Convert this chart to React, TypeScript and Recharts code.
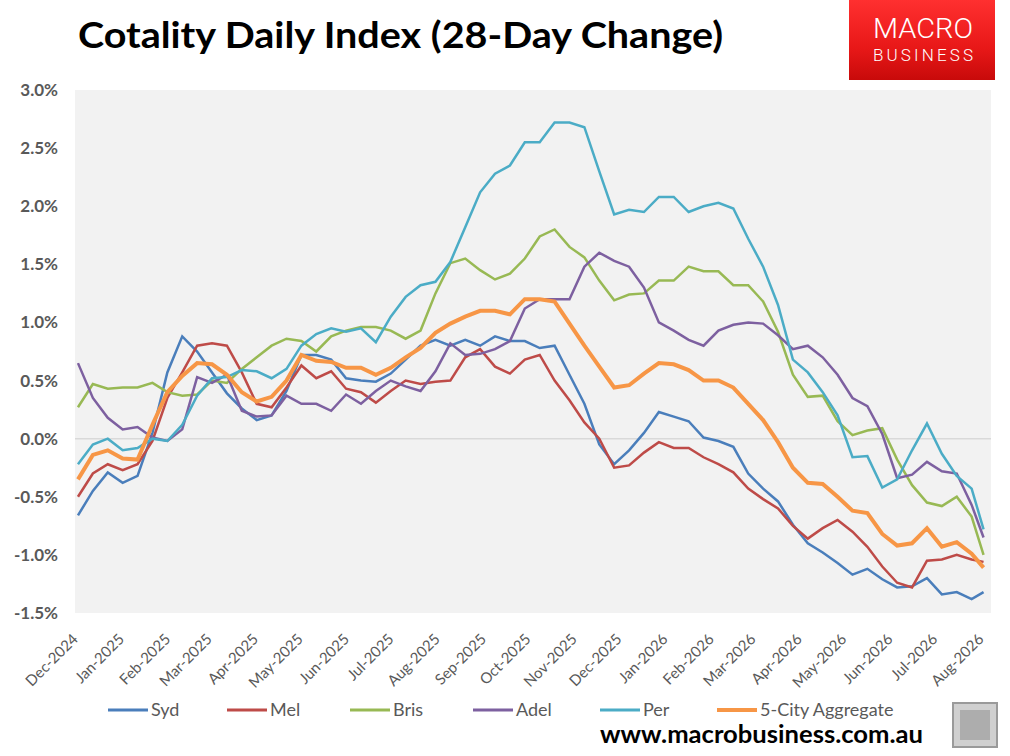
import React from 'react';
import { LineChart, Line, XAxis, YAxis, CartesianGrid, ReferenceLine } from 'recharts';

// days since 1 Dec 2024, sampled roughly every 10 days
const days = [
  0, 10, 20, 30, 40, 50, 60, 70, 80, 90, 100, 110, 120, 130, 140, 150, 160, 170, 180, 190,
  200, 210, 220, 230, 240, 250, 260, 270, 280, 290, 300, 310, 320, 330, 340, 350, 360, 370, 380, 390,
  400, 410, 420, 430, 440, 450, 460, 470, 480, 490, 500, 510, 520, 530, 540, 550, 560, 570, 580, 590,
  600, 608,
];

const syd = [
  -0.66, -0.45, -0.29, -0.38, -0.32, 0.05, 0.57, 0.88, 0.75, 0.57, 0.39, 0.26, 0.16, 0.2, 0.41, 0.72, 0.72, 0.68, 0.52, 0.5,
  0.49, 0.56, 0.68, 0.8, 0.85, 0.8, 0.85, 0.8, 0.88, 0.84, 0.84, 0.78, 0.8, 0.55, 0.3, -0.05, -0.22, -0.1, 0.05, 0.23,
  0.19, 0.15, 0.01, -0.02, -0.07, -0.3, -0.43, -0.54, -0.74, -0.9, -0.98, -1.07, -1.17, -1.12, -1.21, -1.28, -1.27, -1.2, -1.34, -1.32,
  -1.38, -1.32,
];

const mel = [
  -0.5, -0.3, -0.22, -0.27, -0.22, -0.02, 0.35, 0.57, 0.8, 0.82, 0.8, 0.57, 0.3, 0.27, 0.44, 0.63, 0.52, 0.58, 0.43, 0.4,
  0.31, 0.41, 0.5, 0.47, 0.49, 0.5, 0.7, 0.77, 0.62, 0.56, 0.68, 0.72, 0.5, 0.33, 0.14, 0.0, -0.25, -0.23, -0.12, -0.03,
  -0.08, -0.08, -0.16, -0.22, -0.29, -0.43, -0.52, -0.6, -0.75, -0.86, -0.77, -0.7, -0.8, -0.93, -1.1, -1.24, -1.28, -1.05, -1.04, -1.0,
  -1.04, -1.06,
];

const bris = [
  0.27, 0.47, 0.43, 0.44, 0.44, 0.48, 0.4, 0.37, 0.38, 0.5, 0.48, 0.6, 0.7, 0.8, 0.86, 0.84, 0.75, 0.88, 0.93, 0.96,
  0.96, 0.93, 0.86, 0.93, 1.25, 1.51, 1.55, 1.45, 1.37, 1.42, 1.55, 1.74, 1.8, 1.65, 1.56, 1.36, 1.19, 1.24, 1.25, 1.36,
  1.36, 1.48, 1.44, 1.44, 1.32, 1.32, 1.18, 0.92, 0.55, 0.36, 0.37, 0.15, 0.03, 0.07, 0.09, -0.18, -0.4, -0.55, -0.58, -0.5,
  -0.67, -1.0,
];

const adel = [
  0.65, 0.35, 0.18, 0.08, 0.1, 0.01, -0.02, 0.08, 0.53, 0.48, 0.55, 0.24, 0.19, 0.2, 0.37, 0.3, 0.3, 0.24, 0.38, 0.3,
  0.41, 0.5, 0.45, 0.41, 0.58, 0.82, 0.72, 0.73, 0.77, 0.84, 1.12, 1.2, 1.2, 1.2, 1.48, 1.6, 1.53, 1.48, 1.3, 1.0,
  0.93, 0.85, 0.8, 0.93, 0.98, 1.0, 0.99, 0.89, 0.77, 0.8, 0.7, 0.55, 0.35, 0.28, 0.04, -0.34, -0.31, -0.2, -0.28, -0.3,
  -0.57, -0.85,
];

const per = [
  -0.22, -0.05, 0.0, -0.1, -0.08, 0.0, -0.02, 0.12, 0.37, 0.52, 0.53, 0.59, 0.58, 0.52, 0.6, 0.8, 0.9, 0.95, 0.92, 0.95,
  0.83, 1.05, 1.22, 1.32, 1.35, 1.52, 1.82, 2.12, 2.28, 2.35, 2.55, 2.55, 2.72, 2.72, 2.68, 2.3, 1.93, 1.97, 1.95, 2.08,
  2.08, 1.95, 2.0, 2.03, 1.98, 1.72, 1.48, 1.15, 0.68, 0.57, 0.4, 0.2, -0.16, -0.15, -0.42, -0.35, -0.1, 0.13, -0.13, -0.32,
  -0.43, -0.78,
];

const fiveCity = [
  -0.35, -0.14, -0.1, -0.17, -0.18, 0.12, 0.4, 0.54, 0.65, 0.64, 0.55, 0.4, 0.32, 0.36, 0.5, 0.72, 0.67, 0.66, 0.61, 0.61,
  0.55, 0.61, 0.7, 0.78, 0.91, 0.99, 1.05, 1.1, 1.1, 1.07, 1.2, 1.2, 1.18, 0.99, 0.8, 0.62, 0.44, 0.46, 0.56, 0.65,
  0.64, 0.59, 0.5, 0.5, 0.44, 0.3, 0.16, -0.03, -0.25, -0.38, -0.39, -0.5, -0.62, -0.64, -0.82, -0.92, -0.9, -0.77, -0.93, -0.89,
  -0.99, -1.11,
];

// month starts (days since 1 Dec 2024)
const monthTicks = [0, 31, 62, 90, 121, 151, 182, 212, 243, 274, 304, 335, 365, 396, 427, 455, 486, 516, 547, 577, 608];
const monthLabels = [
  'Dec-2024', 'Jan-2025', 'Feb-2025', 'Mar-2025', 'Apr-2025', 'May-2025', 'Jun-2025', 'Jul-2025', 'Aug-2025', 'Sep-2025',
  'Oct-2025', 'Nov-2025', 'Dec-2025', 'Jan-2026', 'Feb-2026', 'Mar-2026', 'Apr-2026', 'May-2026', 'Jun-2026', 'Jul-2026',
  'Aug-2026',
];
const yTicks = [-1.5, -1, -0.5, 0, 0.5, 1, 1.5, 2, 2.5, 3];

const series = [
  { key: 'Syd', color: '#4a7ebb', width: 2.5, values: syd, legendX: 108 },
  { key: 'Mel', color: '#be4b48', width: 2.5, values: mel, legendX: 227 },
  { key: 'Bris', color: '#98b954', width: 2.5, values: bris, legendX: 350 },
  { key: 'Adel', color: '#7d60a0', width: 2.5, values: adel, legendX: 473 },
  { key: 'Per', color: '#4bacc6', width: 2.5, values: per, legendX: 600 },
  { key: '5-City Aggregate', color: '#f79646', width: 4, values: fiveCity, legendX: 717 },
];

const data = days.map((d, i) => {
  const row: any = { day: d };
  series.forEach((s) => {
    row[s.key] = s.values[i];
  });
  return row;
});

const FONT = 'Lato, "Open Sans", sans-serif';

const MonthTick = (props: any) => {
  const { x, payload } = props;
  const idx = monthTicks.indexOf(payload.value);
  const ty = 640;
  return (
    <text
      x={x + 1}
      y={ty}
      transform={`rotate(-45 ${x + 1} ${ty})`}
      textAnchor="end"
      fill="#595959"
      fontSize={15}
      fontFamily={FONT}
    >
      {monthLabels[idx]}
    </text>
  );
};

export default function App() {
  return (
    <div style={{ position: 'absolute', left: 0, top: 0, width: 1010, height: 756, background: '#fff', fontFamily: FONT }}>
      <LineChart
        width={1010}
        height={756}
        data={data}
        margin={{ top: 90, right: 19, bottom: 83, left: 8 }}
      >
        <CartesianGrid fill="#f2f2f2" horizontal={false} vertical={false} />
        <XAxis
          dataKey="day"
          type="number"
          domain={[-2, 613]}
          ticks={monthTicks}
          interval={0}
          height={60}
          axisLine={false}
          tickLine={false}
          tick={<MonthTick />}
        />
        <YAxis
          type="number"
          domain={[-1.5, 3]}
          ticks={yTicks}
          width={67}
          axisLine={false}
          tickLine={false}
          tickSize={0}
          tickMargin={17}
          tickFormatter={(v: number) => `${v.toFixed(1)}%`}
          tick={{ fill: '#595959', fontSize: 17, fontWeight: 700, fontFamily: FONT }}
        />
        <ReferenceLine y={0} stroke="#d9d9d9" strokeWidth={1.5} />
        {series.map((s) => (
          <Line
            key={s.key}
            type="linear"
            dataKey={s.key}
            stroke={s.color}
            strokeWidth={s.width}
            dot={false}
            isAnimationActive={false}
          />
        ))}
      </LineChart>

      {/* title */}
      <svg width={1010} height={70} style={{ position: 'absolute', left: 0, top: 0 }}>
        <text x={78} y={48} fontSize={36} fontWeight={700} fontFamily={FONT} fill="#000" textLength={645} lengthAdjust="spacingAndGlyphs">
          Cotality Daily Index (28-Day Change)
        </text>
      </svg>

      {/* logo */}
      <div
        style={{
          position: 'absolute',
          left: 849,
          top: 0,
          width: 146,
          height: 80,
          background: 'linear-gradient(180deg, #ff3030 0%, #e81818 60%, #c80a0a 100%)',
        }}
      >
        <svg width={146} height={80}>
          <text x={24} y={38} fontSize={28} fontWeight={300} fontFamily="Roboto, sans-serif" fill="#fff" textLength={100} lengthAdjust="spacingAndGlyphs">
            MACRO
          </text>
          <text x={24} y={61} fontSize={17} fontWeight={300} fontFamily="Roboto, sans-serif" fill="#fff" textLength={100} lengthAdjust="spacing">
            BUSINESS
          </text>
        </svg>
      </div>

      {/* legend */}
      <svg width={1010} height={40} style={{ position: 'absolute', left: 0, top: 690 }}>
        {series.map((s) => (
          <g key={s.key}>
            <line x1={s.legendX} x2={s.legendX + 40} y1={20} y2={20} stroke={s.color} strokeWidth={s.width === 4 ? 4 : 3} />
            <text x={s.legendX + 43} y={26} fontSize={18} fontFamily={FONT} fill="#595959">
              {s.key}
            </text>
          </g>
        ))}
      </svg>

      {/* footer */}
      <svg width={1010} height={60} style={{ position: 'absolute', left: 0, top: 700 }}>
        <text x={600} y={43} fontSize={24} fontWeight={700} fontFamily={FONT} fill="#000" textLength={323} lengthAdjust="spacingAndGlyphs">
          www.macrobusiness.com.au
        </text>
        <rect x={953} y={3} width={44} height={44} fill="#d0d0d0" stroke="#9a9a9a" strokeWidth={2} />
        <rect x={960} y={10} width={30} height={30} fill="#8a8a8a" opacity={0.5} />
      </svg>
    </div>
  );
}
